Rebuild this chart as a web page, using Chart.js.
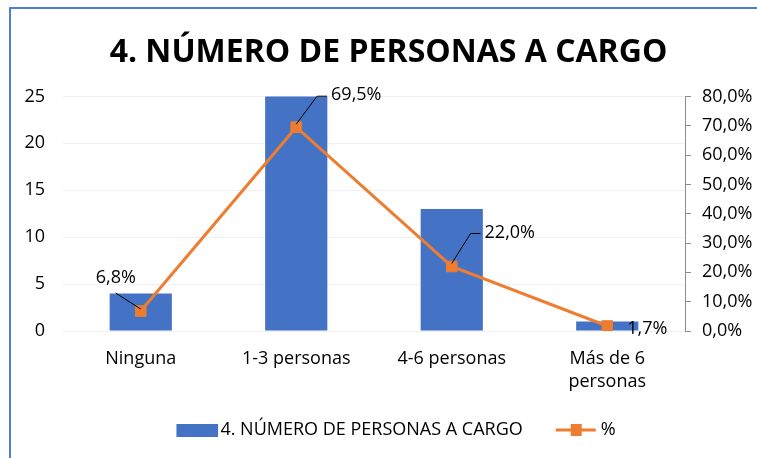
<!DOCTYPE html>
<html>
<head>
<meta charset="utf-8">
<script src="https://cdn.jsdelivr.net/npm/chart.js@4/dist/chart.umd.min.js"></script>
<style>
  html, body { margin: 0; padding: 0; background: #fff; }
  #wrap { position: relative; width: 757px; height: 458px; overflow: hidden; }
  #frame { position: absolute; left: 9px; top: 7px; right: -4px; bottom: -4px;
           border-left: 2px solid #4f7fd3; border-top: 2px solid #4f7fd3; }
  canvas { position: absolute; left: 0; top: 0; }
</style>
</head>
<body>
<div id="wrap">
  <div id="frame"></div>
  <canvas id="chart" width="757" height="458"></canvas>
</div>
<script>
// Categories and values
const categories = ['Ninguna', '1-3 personas', '4-6 personas', ['Más de 6', 'personas']];
const counts = [4, 41, 13, 1];
const percents = [6.8, 69.5, 22.0, 1.7];
const countTicks = [0, 5, 10, 15, 20, 25];
const percentTicks = [0, 10, 20, 30, 40, 50, 60, 70, 80];

const FONT = '"Open Sans", sans-serif';
const BLUE = '#4472C4';
const ORANGE = '#ED7D31';

const fmtPct = v => v.toFixed(1).replace('.', ',') + '%';

// legend swatches: 64px wide images, drawn content pushed to the right side
function swatchBar() {
  const c = document.createElement('canvas');
  c.width = 64; c.height = 13;
  const g = c.getContext('2d');
  g.fillStyle = BLUE;
  g.fillRect(22, 0, 42, 13);
  return c;
}
function swatchLine() {
  const c = document.createElement('canvas');
  c.width = 64; c.height = 12;
  const g = c.getContext('2d');
  g.strokeStyle = ORANGE;
  g.lineWidth = 3;
  g.beginPath(); g.moveTo(21, 6); g.lineTo(61, 6); g.stroke();
  g.fillStyle = ORANGE;
  g.fillRect(36, 0, 11, 12);
  return c;
}

// label offsets from each point (label centre) and leader style
const labelPlacement = [
  { dx: -25, dy: -33, leader: 'diag' },
  { dx: 60, dy: -32, leader: 'elbow' },
  { dx: 58, dy: -34, leader: 'elbow' },
  { dx: 40, dy: 3, leader: 'none' }
];

const pctLabels = {
  id: 'pctLabels',
  afterDatasetsDraw(chart) {
    const meta = chart.getDatasetMeta(1);
    const ctx = chart.ctx;
    ctx.save();
    ctx.font = '18px ' + FONT;
    ctx.fillStyle = '#000';
    ctx.strokeStyle = '#000';
    ctx.lineWidth = 1;
    ctx.textBaseline = 'middle';
    ctx.textAlign = 'center';
    meta.data.forEach((pt, i) => {
      const p = labelPlacement[i];
      const text = fmtPct(percents[i]);
      const lx = pt.x + p.dx, ly = pt.y + p.dy;
      const w = ctx.measureText(text).width;
      if (p.leader === 'diag') {
        ctx.beginPath();
        ctx.moveTo(lx, ly + 15);
        ctx.lineTo(pt.x, pt.y - 2);
        ctx.stroke();
      } else if (p.leader === 'elbow') {
        const ex = lx - w / 2 - 4;
        ctx.beginPath();
        ctx.moveTo(ex, ly + 1);
        ctx.lineTo(ex - 10, ly + 1);
        ctx.lineTo(pt.x, pt.y - 3);
        ctx.stroke();
      }
      ctx.fillText(text, lx, ly);
    });
    ctx.restore();
  }
};

new Chart(document.getElementById('chart'), {
  data: {
    labels: categories,
    datasets: [{
      type: 'bar',
      label: '4. NÚMERO DE PERSONAS A CARGO',
      data: counts,
      backgroundColor: BLUE,
      barPercentage: 0.8,
      categoryPercentage: 0.5,
      yAxisID: 'y',
      order: 2
    }, {
      type: 'line',
      label: '%',
      data: percents,
      borderColor: ORANGE,
      backgroundColor: ORANGE,
      borderWidth: 3,
      pointStyle: 'rect',
      pointRadius: 7.5,
      pointBorderWidth: 1,
      pointHoverRadius: 7.5,
      tension: 0,
      yAxisID: 'y1',
      order: 1
    }]
  },
  options: {
    responsive: false,
    animation: false,
    layout: { padding: { left: 20, right: 0, top: 0, bottom: 9 } },
    scales: {
      x: {
        grid: { display: false },
        border: { display: false },
        afterFit: s => { s.height = 71; },
        ticks: { color: '#000', font: { family: FONT, size: 18, lineHeight: 1.3 }, maxRotation: 0, padding: 8 }
      },
      y: {
        position: 'left',
        min: 0, max: 25,
        afterBuildTicks: s => { s.ticks = countTicks.map(v => ({ value: v })); },
        afterFit: s => { s.width = 43; },
        grid: { color: '#f0f0f0', drawTicks: false },
        border: { display: false },
        ticks: { color: '#000', font: { family: FONT, size: 18 }, padding: 18 }
      },
      y1: {
        position: 'right',
        min: 0, max: 80,
        afterBuildTicks: s => { s.ticks = percentTicks.map(v => ({ value: v })); },
        afterFit: s => { s.width = 72; },
        grid: { drawOnChartArea: false, color: '#8c8c8c', tickLength: 6 },
        border: { display: true, color: '#8c8c8c' },
        ticks: { color: '#000', font: { family: FONT, size: 18 }, padding: 11, callback: v => fmtPct(v) }
      }
    },
    plugins: {
      title: {
        display: true,
        text: '4. NÚMERO DE PERSONAS A CARGO',
        color: '#000',
        font: { family: FONT, size: 32, weight: 'bold' },
        padding: { top: 34, bottom: 24 }
      },
      legend: {
        position: 'bottom',
        labels: {
          color: '#000',
          font: { family: FONT, size: 18 },
          usePointStyle: true,
          pointStyleWidth: 50,
          padding: 19,
          generateLabels: chart => chart.data.datasets.map((ds, i) => ({
            text: ds.label,
            datasetIndex: i,
            pointStyle: i === 0 ? swatchBar() : swatchLine(),
            fillStyle: ds.backgroundColor,
            strokeStyle: ds.borderColor || ds.backgroundColor,
            lineWidth: 0,
            hidden: false
          }))
        }
      },
      tooltip: { enabled: false }
    }
  },
  plugins: [pctLabels]
});
</script>
</body>
</html>
